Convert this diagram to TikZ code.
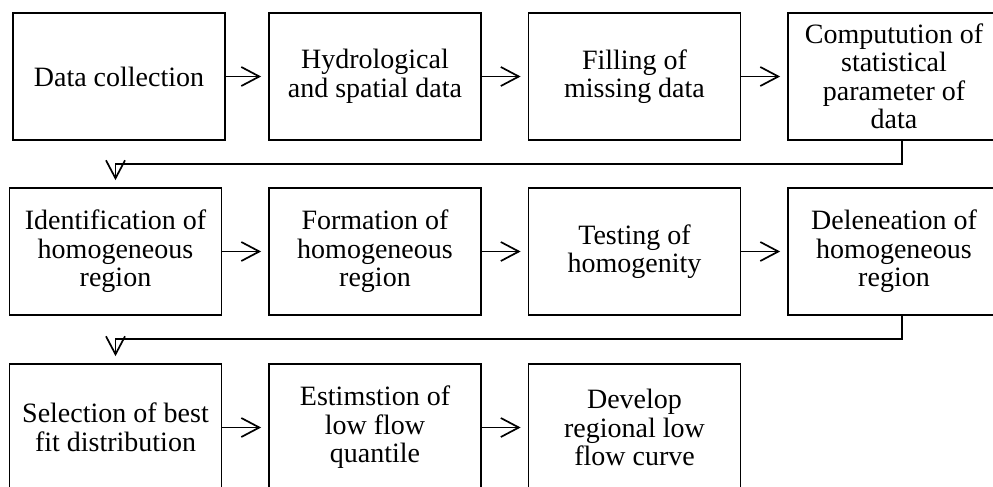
\documentclass[tikz,border=0pt]{standalone}
\usepackage{fontspec}
\setmainfont{Liberation Serif}
\usetikzlibrary{arrows.meta,positioning,calc}

\begin{document}
\begin{tikzpicture}[x=1pt,y=-1pt,line width=1.7pt,
  box/.style={rectangle,draw,minimum width=212pt,minimum height=127pt,align=center,inner sep=2pt,font=\fontsize{28}{28.5}\selectfont},
  flow/.style={-{Straight Barb[length=18pt,width=19pt]},shorten >=7pt}]
\useasboundingbox (0,0) rectangle (993,487);
% first row
\node (dc) at (119,76.5)[box] {Data collection};
\node (hs) at (375,76.5)[box] {Hydrological\\and spatial data};
\node (fm) at (634.5,76.5)[box] {Filling of\\missing data};
\node (cs) at (894,76.5)[box] {Computution of\\statistical\\parameter of\\data};
% second row
\node (ih) at (115.5,251.5)[box] {Identification of\\homogeneous\\region};
\node (fh) at (375,251.5)[box] {Formation of\\homogeneous\\region};
\node (th) at (634.5,251.5)[box] {Testing of\\homogenity};
\node (dh) at (894,251.5)[box] {Deleneation of\\homogeneous\\region};
% third row
\node (sb) at (115.5,427.5)[box] {Selection of best\\fit distribution};
\node (el) at (375,427.5)[box] {Estimstion of\\low flow\\quantile};
\node (dr) at (634.5,427.5)[box] {Develop\\regional low\\flow curve};
\coordinate (t1) at (115.5,164);
\coordinate (t2) at (115.5,339);
\draw[flow] (dc) -- (hs);
\draw[flow] (hs) -- (fm);
\draw[flow] (fm) -- (cs);
\draw[flow] ([xshift=8pt]cs.south) |- (t1) -- (ih.north);
\draw[flow] (ih) -- (fh);
\draw[flow] (fh) -- (th);
\draw[flow] (th) -- (dh);
\draw[flow] ([xshift=8pt]dh.south) |- (t2) -- (sb.north);
\draw[flow] (sb) -- (el);
\draw[flow] (el) -- (dr);
\end{tikzpicture}
\end{document}
